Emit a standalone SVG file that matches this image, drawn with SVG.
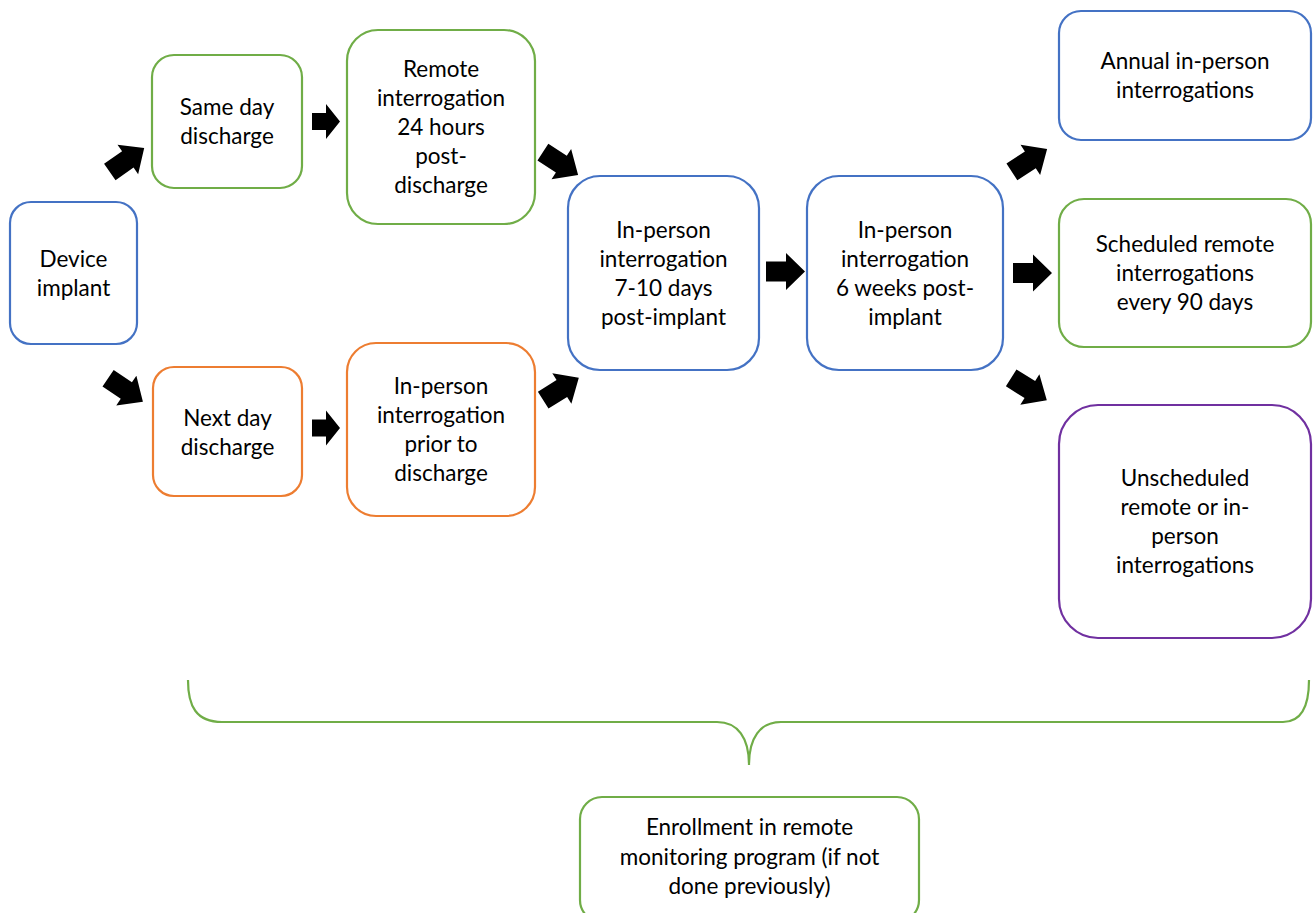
<svg xmlns="http://www.w3.org/2000/svg" xmlns:xlink="http://www.w3.org/1999/xlink" width="1313" height="913" viewBox="0 0 1313 913">
<style>
.box{fill:#fff;stroke-width:2.2}
.blue{stroke:#4472C4}
.green{stroke:#70AD47}
.orange{stroke:#ED7D31}
.purple{stroke:#7030A0}
text{font-family:"Lato","Liberation Sans",sans-serif;font-size:22.5px;fill:#000;text-anchor:middle}
.arr{fill:#000}
</style>
<defs>
<polygon id="diag" points="-21,-10 1,-10 1,-18 21,0 1,18 1,10 -21,10"/>
<polygon id="rsmall" points="-14,-8.5 0,-8.5 0,-17.5 14,0 0,17.5 0,8.5 -14,8.5"/>
<polygon id="rbig" points="-19.5,-10 0.5,-10 0.5,-18.5 19.5,0 0.5,18.5 0.5,10 -19.5,10"/>
</defs>
<rect width="1313" height="913" fill="#fff"/>

<g id="connectors" class="arr">
<use xlink:href="#diag" transform="translate(127,160) rotate(-35)"/>
<use xlink:href="#diag" transform="translate(125.5,390) rotate(34)"/>
<use xlink:href="#rsmall" transform="translate(326,121.5)"/>
<use xlink:href="#rsmall" transform="translate(326,428)"/>
<use xlink:href="#diag" transform="translate(560.5,163.5) rotate(33)"/>
<use xlink:href="#diag" transform="translate(561,389) rotate(-32)"/>
<use xlink:href="#rbig" transform="translate(785.5,271.5)"/>
<use xlink:href="#diag" transform="translate(1029.5,160.5) rotate(-33)"/>
<use xlink:href="#rbig" transform="translate(1032.5,273)"/>
<use xlink:href="#diag" transform="translate(1029,389) rotate(32)"/>
<path id="brace" d="M188,680 C188,706 196,722 222,722 L717,722 C738,722 749,738 749,765 C749,738 760,722 781,722 L1283,722 C1302,722 1309,706 1309,680" fill="none" stroke="#70AD47" stroke-width="2.2"/>
</g>

<g id="device">
<rect class="box blue" x="10" y="202" width="127" height="142" rx="21"/>
<text x="73.5" y="266.5">Device</text>
<text x="73.5" y="295.5">implant</text>
</g>

<g id="same-day">
<rect class="box green" x="152" y="55" width="150" height="133" rx="22"/>
<text x="227" y="115">Same day</text>
<text x="227" y="144">discharge</text>
</g>

<g id="remote-24h">
<rect class="box green" x="347" y="30" width="188" height="194" rx="31"/>
<text x="441" y="77">Remote</text>
<text x="441" y="106">interrogation</text>
<text x="441" y="135">24 hours</text>
<text x="441" y="164">post-</text>
<text x="441" y="193">discharge</text>
</g>

<g id="next-day">
<rect class="box orange" x="153" y="367" width="149" height="129" rx="21"/>
<text x="227.5" y="425.5">Next day</text>
<text x="227.5" y="454.5">discharge</text>
</g>

<g id="prior">
<rect class="box orange" x="347" y="343" width="188" height="173" rx="29"/>
<text x="441" y="394">In-person</text>
<text x="441" y="423">interrogation</text>
<text x="441" y="452">prior to</text>
<text x="441" y="481">discharge</text>
</g>

<g id="inperson-7-10">
<rect class="box blue" x="568" y="176" width="191" height="194" rx="32"/>
<text x="663.5" y="237.5">In-person</text>
<text x="663.5" y="266.5">interrogation</text>
<text x="663.5" y="295.5">7-10 days</text>
<text x="663.5" y="324.5">post-implant</text>
</g>

<g id="inperson-6wk">
<rect class="box blue" x="807" y="176" width="196" height="194" rx="32"/>
<text x="905" y="237.5">In-person</text>
<text x="905" y="266.5">interrogation</text>
<text x="905" y="295.5">6 weeks post-</text>
<text x="905" y="324.5">implant</text>
</g>

<g id="annual">
<rect class="box blue" x="1059" y="11" width="252" height="129" rx="22"/>
<text x="1185" y="69">Annual in-person</text>
<text x="1185" y="98">interrogations</text>
</g>

<g id="scheduled">
<rect class="box green" x="1059" y="199" width="252" height="148" rx="25"/>
<text x="1185" y="252">Scheduled remote</text>
<text x="1185" y="281">interrogations</text>
<text x="1185" y="310">every 90 days</text>
</g>

<g id="unscheduled">
<rect class="box purple" x="1059" y="405" width="252" height="233" rx="39"/>
<text x="1185" y="486">Unscheduled</text>
<text x="1185" y="515">remote or in-</text>
<text x="1185" y="544">person</text>
<text x="1185" y="573">interrogations</text>
</g>

<g id="enrollment">
<rect class="box green" x="580" y="797" width="339" height="125" rx="22"/>
<text x="749.5" y="835">Enrollment in remote</text>
<text x="749.5" y="865">monitoring program (if not</text>
<text x="749.5" y="894">done previously)</text>
</g>
</svg>
